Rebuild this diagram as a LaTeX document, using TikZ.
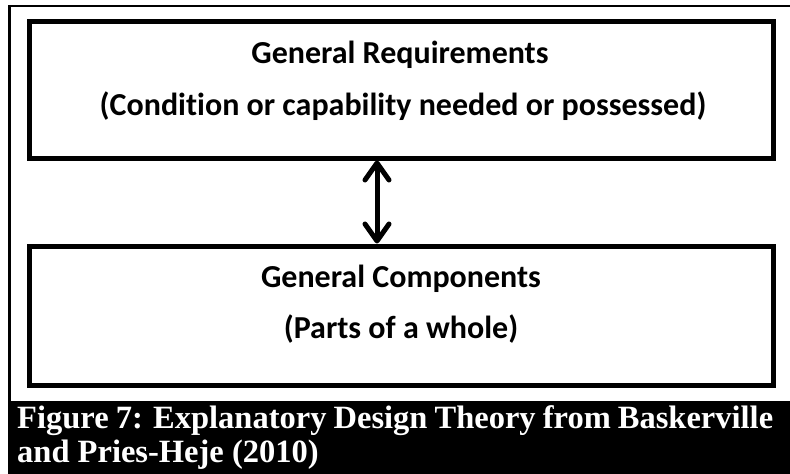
\documentclass[tikz,border=0pt]{standalone}
\usepackage{fontspec}
\setmainfont{Liberation Serif}
\newfontfamily\carlito[Ligatures=NoCommon]{Carlito}
\usetikzlibrary{arrows.meta}
\tikzset{
  box/.style={draw=black, line width=5pt, minimum width=744pt, inner sep=0pt, line join=miter},
  boxtext/.style={anchor=base, inner sep=0pt, font=\carlito\bfseries\fontsize{32}{38}\selectfont},
  captext/.style={anchor=base west, inner sep=0pt, text=white, font=\bfseries\fontsize{32.5}{36}\selectfont},
  frameline/.style={draw=black, line width=2.2pt},
  link/.style={line width=5pt, {Straight Barb[length=17pt,width=24pt,line cap=round,line join=round]}-{Straight Barb[length=17pt,width=24pt,line cap=round,line join=round]}}
}
\begin{document}
\begin{tikzpicture}[x=1pt,y=-1pt]
\useasboundingbox (0,0) rectangle (790,474);
% outer frame
\coordinate (fa) at (9.5,401);
\coordinate (fb) at (9.5,6);
\coordinate (fc) at (792,6);
\draw[frameline] (fa) -- (fb) -- (fc);
% caption band
\fill[black] (8.3,401) rectangle (791,475);
\node[captext] (cap1) at (17,428) {\makebox[756pt][s]{Figure 7: Explanatory Design Theory from Baskerville}};
\node[captext] (cap2) at (17,462) {and Pries-Heje (2010)};
% boxes
\node[box, minimum height=137pt] (req) at (401,89.5) {};
\node[box, minimum height=139pt] (comp) at (401,315.5) {};
\node[boxtext] (req1) at (400,63) {General Requirements};
\node[boxtext] (req2) at (403,115) {(Condition or capability needed or possessed)};
\node[boxtext] (comp1) at (401,287) {General Components};
\node[boxtext] (comp2) at (401,338) {(Parts of a whole)};
% connector
\coordinate (ax) at (377,200);
\draw[link] (req.south -| ax) -- (comp.north -| ax);
\end{tikzpicture}
\end{document}
